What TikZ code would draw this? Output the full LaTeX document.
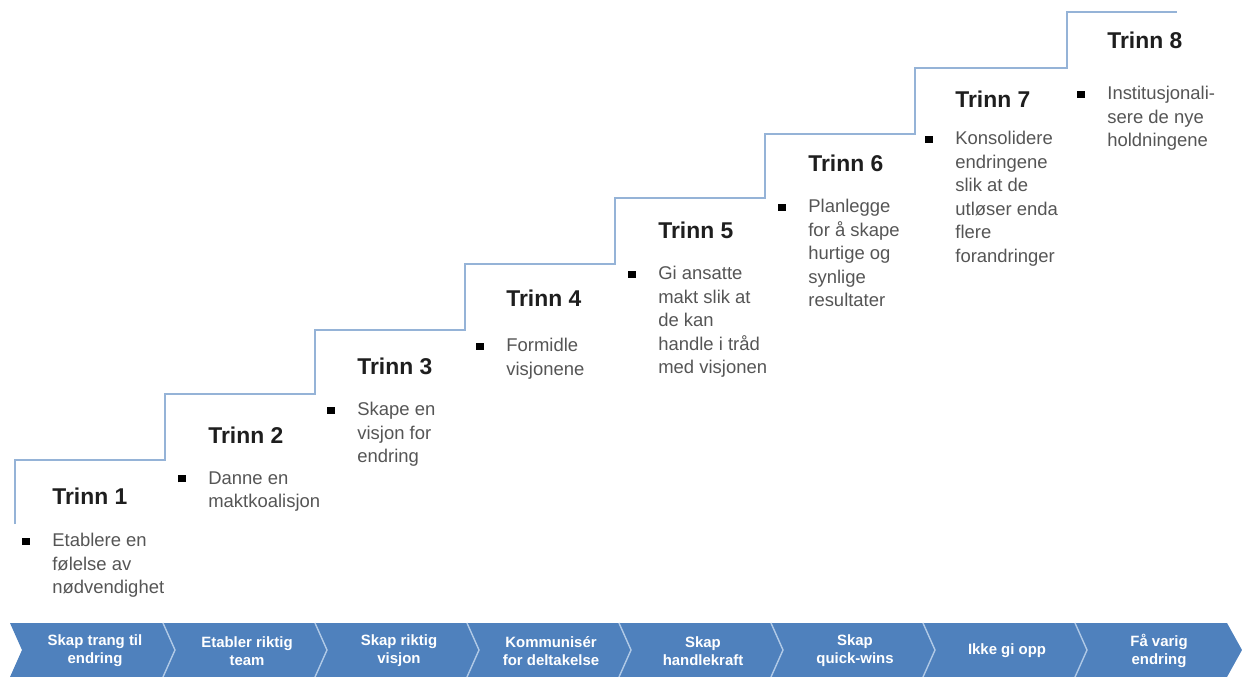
\documentclass[tikz,border=0pt]{standalone}
\usepackage{fontspec}
\setmainfont{Liberation Sans}
\usetikzlibrary{positioning, calc}
\definecolor{barblue}{RGB}{79, 129, 189}
\definecolor{barline}{RGB}{176, 201, 230}
\definecolor{stairblue}{RGB}{149, 179, 215}
\definecolor{titleblack}{RGB}{30, 30, 30}
\definecolor{bodygray}{RGB}{85, 85, 85}
\tikzset{
  stair/.style={draw=stairblue, line width=1.3pt},
  trinn/.style={font=\fontsize{13}{15}\selectfont\bfseries, text=titleblack,
                anchor=west, inner sep=0pt},
  body/.style={font=\fontsize{10.5}{13.4}\selectfont, text=bodygray,
               align=left, anchor=north west, inner sep=0pt},
  chevbar/.style={fill=barblue},
  chevsep/.style={draw=barline, line width=0.8pt},
  chevlbl/.style={font=\fontsize{8.5}{10.2}\selectfont\bfseries, text=white,
                  align=center, inner sep=0pt},
}
\newcommand{\blt}{\llap{\textcolor{black}{\rule[1pt]{4pt}{4pt}}\hspace{13pt}}}

\begin{document}
\begin{tikzpicture}[x=0.2mm, y=-0.2mm]
\useasboundingbox (0,0) rectangle (1242,677);

% ===================== staircase ==================
\draw[stair] (15,524) |- (165,460) |- (315,394) |- (465,330) |- (615,264)
  |- (765,198) |- (915,134) |- (1067,68) |- (1177,12);

% steps: title + bulleted text
\foreach \i/\x/\ty/\by/\txt in {
    1/52/496/542/{Etablere en\\følelse av\\nødvendighet},
    2/208/435/480/{Danne en\\maktkoalisjon},
    3/357/366/411/{Skape en\\visjon for\\endring},
    4/506/298/347/{Formidle\\visjonene},
    5/658/230/275/{Gi ansatte\\makt slik at\\de kan\\handle i tråd\\med visjonen},
    6/808/163/208/{Planlegge\\for å skape\\hurtige og\\synlige\\resultater},
    7/955/99/140/{Konsolidere\\endringene\\slik at de\\utløser enda\\flere\\forandringer},
    8/1107/40/95/{Institusjonali-\\sere de nye\\holdningene}} {
  \node[trinn] (trinn\i) at (\x,\ty) {Trinn \i};
  \node[body] (txt\i) at (\x,\by-9) {\blt\txt};
}

% ===================== chevron bar ==================
\path[chevbar] (10,623) -- (1227,623) -- (1242,650) -- (1227,677) -- (10,677)
  -- (22,650) -- cycle;
\foreach \k in {1,...,7}
  \draw[chevsep] ({11+152*\k},623) -- ++(12,27) -- ++(-12,27);

\foreach \k/\txt in {0/{Skap trang til\\endring}, 1/{Etabler riktig\\team},
    2/{Skap riktig\\visjon}, 3/{Kommunisér\\for deltakelse},
    4/{Skap\\handlekraft}, 5/{Skap\\quick-wins}, 6/{Ikke gi opp},
    7/{Få varig\\endring}} {
  \node[chevlbl] (fase\k) at ({95+152*\k},651) {\txt};
}

\end{tikzpicture}
\end{document}
